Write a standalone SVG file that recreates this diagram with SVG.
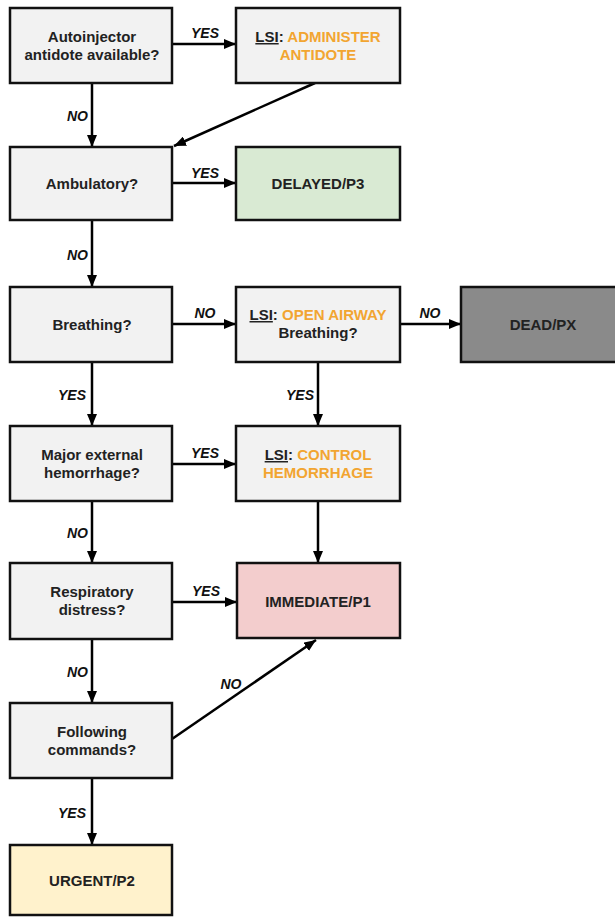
<svg xmlns="http://www.w3.org/2000/svg" width="615" height="917" viewBox="0 0 615 917">
  <defs>
    <marker id="arrow" viewBox="0 0 12 10" refX="12" refY="5" markerWidth="12" markerHeight="10" markerUnits="userSpaceOnUse" orient="auto">
      <path d="M0,0 L12,5 L0,10 z" fill="#000"/>
    </marker>
  </defs>
  <style>
    .box { fill: #f2f2f2; stroke: #111; stroke-width: 2.5; }
    .green { fill: #d9ead3; }
    .dead { fill: #8a8a8a; }
    .pink { fill: #f3cdcd; }
    .yellow { fill: #fff2cc; }
    .t { font-family: "Liberation Sans", Arial, sans-serif; font-weight: bold; font-size: 15px; fill: #222; text-anchor: middle; }
    .o { fill: #f2a531; }
    .u { text-decoration: underline; }
    .lbl { font-family: "Liberation Sans", Arial, sans-serif; font-weight: bold; font-style: italic; font-size: 14px; fill: #111; }
    .c { text-anchor: middle; }
    .e { text-anchor: end; }
    .edge { fill: none; stroke: #000; stroke-width: 2.5; marker-end: url(#arrow); }
  </style>

  <rect width="615" height="917" fill="#fff"/>

  <!-- connectors -->
  <g id="connectors">
    <!-- main column -->
    <line class="edge" x1="92" y1="83" x2="92" y2="147"/>
    <line class="edge" x1="92" y1="220" x2="92" y2="287"/>
    <line class="edge" x1="92" y1="362" x2="92" y2="426"/>
    <line class="edge" x1="92" y1="501" x2="92" y2="563"/>
    <line class="edge" x1="92" y1="639" x2="92" y2="703"/>
    <line class="edge" x1="92" y1="778" x2="92" y2="845"/>
    <!-- horizontal branches -->
    <line class="edge" x1="172" y1="44" x2="236" y2="44"/>
    <line class="edge" x1="172" y1="183" x2="236" y2="183"/>
    <line class="edge" x1="172" y1="324" x2="236" y2="324"/>
    <line class="edge" x1="400" y1="324" x2="461" y2="324"/>
    <line class="edge" x1="172" y1="464" x2="236" y2="464"/>
    <line class="edge" x1="172" y1="602" x2="237" y2="602"/>
    <!-- second column -->
    <line class="edge" x1="318" y1="362" x2="318" y2="426"/>
    <line class="edge" x1="318" y1="501" x2="318" y2="563"/>
    <!-- diagonals -->
    <line class="edge" x1="315" y1="83" x2="174" y2="146"/>
    <line class="edge" x1="172" y1="739" x2="316" y2="640"/>

    <!-- branch labels -->
    <text class="lbl c" x="205" y="38">YES</text>
    <text class="lbl e" x="88" y="121">NO</text>
    <text class="lbl c" x="205" y="178">YES</text>
    <text class="lbl e" x="88" y="260">NO</text>
    <text class="lbl c" x="205" y="318">NO</text>
    <text class="lbl c" x="430" y="318">NO</text>
    <text class="lbl e" x="86" y="400">YES</text>
    <text class="lbl e" x="314" y="400">YES</text>
    <text class="lbl c" x="205" y="458">YES</text>
    <text class="lbl e" x="88" y="538">NO</text>
    <text class="lbl c" x="206" y="596">YES</text>
    <text class="lbl e" x="88" y="677">NO</text>
    <text class="lbl c" x="231" y="689">NO</text>
    <text class="lbl e" x="86" y="818">YES</text>
  </g>

  <!-- nodes -->
  <g id="q-autoinjector">
    <rect class="box" x="10" y="8" width="162" height="75"/>
    <text class="t" x="92" y="42">Autoinjector</text>
    <text class="t" x="92" y="60">antidote available?</text>
  </g>
  <g id="lsi-antidote">
    <rect class="box" x="236" y="8" width="164" height="75"/>
    <text class="t" x="318" y="42"><tspan class="u">LSI</tspan>: <tspan class="o">ADMINISTER</tspan></text>
    <text class="t o" x="318" y="60">ANTIDOTE</text>
  </g>
  <g id="q-ambulatory">
    <rect class="box" x="10" y="147" width="162" height="73"/>
    <text class="t" x="92" y="189">Ambulatory?</text>
  </g>
  <g id="delayed">
    <rect class="box green" x="236" y="147" width="164" height="73"/>
    <text class="t" x="318" y="189">DELAYED/P3</text>
  </g>
  <g id="q-breathing">
    <rect class="box" x="10" y="287" width="162" height="75"/>
    <text class="t" x="92" y="330">Breathing?</text>
  </g>
  <g id="lsi-airway">
    <rect class="box" x="236" y="287" width="164" height="75"/>
    <text class="t" x="318" y="320"><tspan class="u">LSI</tspan>: <tspan class="o">OPEN AIRWAY</tspan></text>
    <text class="t" x="318" y="338">Breathing?</text>
  </g>
  <g id="dead">
    <rect class="box dead" x="461" y="287" width="164" height="75"/>
    <text class="t" x="543" y="330">DEAD/PX</text>
  </g>
  <g id="q-hemorrhage">
    <rect class="box" x="10" y="426" width="162" height="75"/>
    <text class="t" x="92" y="460">Major external</text>
    <text class="t" x="92" y="478">hemorrhage?</text>
  </g>
  <g id="lsi-hemorrhage">
    <rect class="box" x="236" y="426" width="164" height="75"/>
    <text class="t" x="318" y="460"><tspan class="u">LSI</tspan>: <tspan class="o">CONTROL</tspan></text>
    <text class="t o" x="318" y="478">HEMORRHAGE</text>
  </g>
  <g id="q-respiratory">
    <rect class="box" x="10" y="563" width="162" height="76"/>
    <text class="t" x="92" y="597">Respiratory</text>
    <text class="t" x="92" y="615">distress?</text>
  </g>
  <g id="immediate">
    <rect class="box pink" x="237" y="563" width="163" height="75"/>
    <text class="t" x="318" y="607">IMMEDIATE/P1</text>
  </g>
  <g id="q-commands">
    <rect class="box" x="10" y="703" width="162" height="75"/>
    <text class="t" x="92" y="737">Following</text>
    <text class="t" x="92" y="755">commands?</text>
  </g>
  <g id="urgent">
    <rect class="box yellow" x="10" y="845" width="162" height="70"/>
    <text class="t" x="92" y="886">URGENT/P2</text>
  </g>
</svg>
